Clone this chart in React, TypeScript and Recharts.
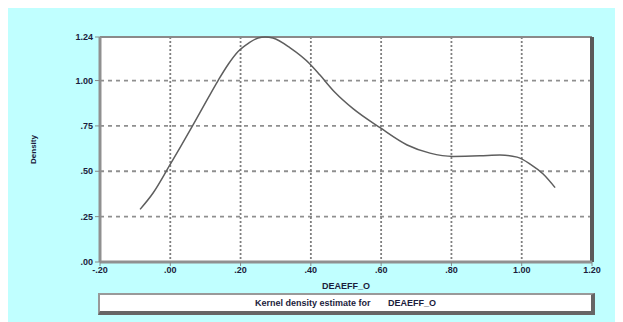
import React from "react";
import { LineChart, Line, XAxis, YAxis, CartesianGrid, ReferenceLine, Label } from "recharts";

const xValues = [-0.086, -0.049, -0.004, 0.062, 0.105, 0.136, 0.165, 0.193, 0.222, 0.25, 0.27, 0.292, 0.341, 0.398, 0.426, 0.469, 0.52, 0.597, 0.674, 0.739, 0.805, 0.881, 0.938, 0.987, 1.024, 1.061, 1.095];
const densityValues = [0.29, 0.38, 0.525, 0.746, 0.895, 1.0, 1.09, 1.16, 1.205, 1.235, 1.24, 1.234, 1.18, 1.09, 1.03, 0.934, 0.845, 0.74, 0.645, 0.6, 0.582, 0.585, 0.59, 0.578, 0.54, 0.485, 0.41];
const xTicks = [-0.2, 0, 0.2, 0.4, 0.6, 0.8, 1.0, 1.2];
const xMinorTicks = [-0.1, 0.1, 0.3, 0.5, 0.7, 0.9, 1.1];
const yTicks = [0, 0.25, 0.5, 0.75, 1.0, 1.24];
const yMinorTicks = [0.05, 0.1, 0.15, 0.2, 0.3, 0.35, 0.4, 0.45, 0.55, 0.6, 0.65, 0.7, 0.8, 0.85, 0.9, 0.95, 1.05, 1.1, 1.15, 1.2];
const xTitle = "DEAEFF_O";
const yTitle = "Density";
const legendText = "Kernel density estimate for";

const data = xValues.map((x, i) => ({ x, d: densityValues[i] }));

const fmt = (v: number) => {
  const s = Math.abs(v).toFixed(2).replace(/^0/, "");
  return v < 0 ? "-" + s : s;
};

const tickStyle = { fontSize: 9, fontWeight: 700, fill: "#1c1c3c", fontFamily: "'Liberation Sans', Arial, sans-serif" };

export default function App() {
  return (
    <div style={{ position: "relative", marginTop: -4, width: 615, height: 318, background: "#c0ffff", fontFamily: "'Liberation Sans', Arial, sans-serif" }}>
      <LineChart width={615} height={318} data={data} margin={{ top: 33, right: 31, bottom: 30, left: 12 }}>
        <CartesianGrid fill="#ffffff" vertical={false} stroke="#8f8f8f" strokeDasharray="4 4" strokeWidth={1.8} />
        <CartesianGrid horizontal={false} stroke="#7f7f7f" strokeDasharray="2 2" strokeWidth={1.8} />
        <XAxis xAxisId="m" type="number" dataKey="x" domain={[-0.2, 1.2]} ticks={xMinorTicks} height={0} axisLine={false} tick={false} tickLine={{ stroke: "#888" }} tickSize={3} />
        <XAxis type="number" dataKey="x" domain={[-0.2, 1.2]} ticks={xTicks} tickFormatter={fmt} height={30} interval={0}
          axisLine={{ stroke: "#909090", strokeWidth: 3 }} tickLine={{ stroke: "#888" }} tickSize={4} tickMargin={1} tick={tickStyle}>
          <Label value={xTitle} position="insideBottom" offset={3} style={{ ...tickStyle, fontSize: 9 }} />
        </XAxis>
        <YAxis yAxisId="m" type="number" domain={[0, 1.24]} ticks={yMinorTicks} width={0} axisLine={false} tick={false} tickLine={{ stroke: "#999" }} tickSize={3} />
        <YAxis type="number" domain={[0, 1.24]} ticks={yTicks} tickFormatter={fmt} width={80} interval={0}
          axisLine={{ stroke: "#909090", strokeWidth: 3 }} tickLine={{ stroke: "#888" }} tickSize={5} tickMargin={2} tick={tickStyle}>
          <Label value={yTitle} angle={-90} position="insideLeft" offset={13} style={{ ...tickStyle, fontSize: 8, textAnchor: "middle" }} />
        </YAxis>
        <ReferenceLine y={1.24} stroke="#8a8a8a" strokeWidth={2} />
        <ReferenceLine x={1.2} stroke="#5a5a5a" strokeWidth={4} />
        <Line type="monotone" dataKey="d" stroke="#5e5e5e" strokeWidth={1.5} dot={false} isAnimationActive={false} />
      </LineChart>
      <div style={{ position: "absolute", left: 90, top: 289, width: 491, height: 16, background: "#fff", borderTop: "2px solid #999", borderLeft: "2px solid #999", borderRight: "4px solid #666", borderBottom: "4px solid #666", display: "flex", alignItems: "center", justifyContent: "center", fontSize: 9, fontWeight: 700, color: "#1c1c3c", whiteSpace: "pre" }}>
        {legendText + "       " + xTitle}
      </div>
    </div>
  );
}
